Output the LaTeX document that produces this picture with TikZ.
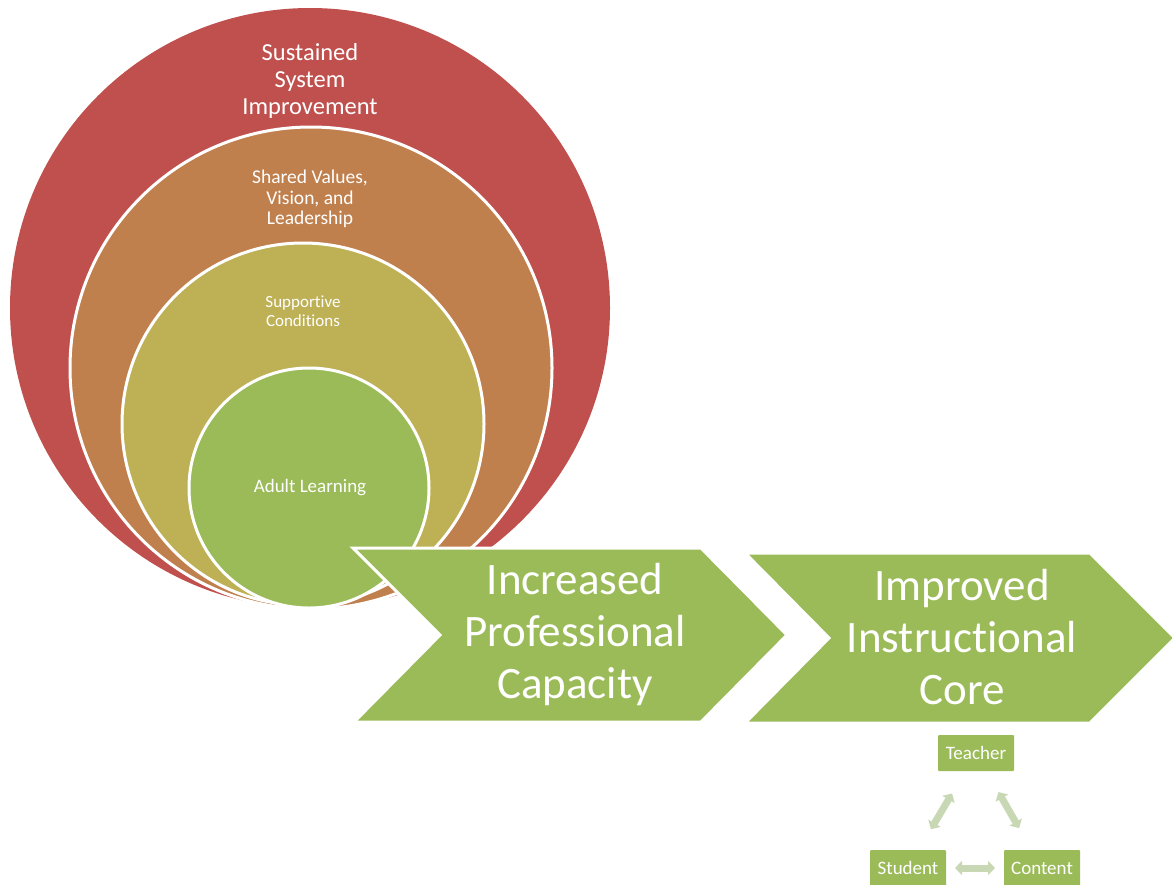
\documentclass[tikz,border=0pt]{standalone}
\usepackage{fontspec}
\setmainfont[Ligatures={NoCommon}]{Carlito}
\usetikzlibrary{arrows.meta}
\definecolor{cred}{HTML}{C0504D}
\definecolor{corange}{HTML}{C0804D}
\definecolor{cyellow}{HTML}{BEB055}
\definecolor{cgreen}{HTML}{9BBB59}
\definecolor{carrow}{HTML}{C9D8B4}
\tikzset{
  ring/.style={circle, inner sep=0pt, outer sep=0pt, draw=white, line width=3pt},
  ringtext/.style={align=center, text=white, inner sep=0pt},
  chev/.style={fill=cgreen, draw=white, line width=3pt, line join=miter},
  chevtext/.style={align=center, text=white, inner sep=0pt, font=\fontsize{45}{52}\selectfont},
  corebox/.style={fill=cgreen, text=white, minimum width=76pt, minimum height=36pt, inner sep=0pt, font=\fontsize{19}{21}\selectfont, rounded corners=1pt},
  twoway/.style={draw=carrow, line width=7pt, {Triangle[width=14pt,length=7pt]}-{Triangle[width=14pt,length=7pt]}}
}
\begin{document}
\begin{tikzpicture}[x=1pt,y=-1pt]
\useasboundingbox (0,0) rectangle (1172,884);
\clip (0,0) rectangle (1172,884);
% nested circles
\node[ring, fill=cred, draw=none, minimum size=600pt] (c1) at (310,308) {};
\node[ring, fill=corange, minimum size=482pt] (c2) at (311,368) {};
\node[ring, fill=cyellow, minimum size=362pt] (c3) at (303,424) {};
\node[ring, fill=cgreen, minimum size=240pt] (c4) at (309,488) {};
\node[ringtext, font=\fontsize{24.5}{27}\selectfont] (t1) at (310,81) {Sustained\\System\\Improvement};
\node[ringtext, font=\fontsize{19.5}{20.5}\selectfont] (t2) at (310,199) {Shared Values,\\Vision, and\\Leadership};
\node[ringtext, font=\fontsize{17}{19}\selectfont] (t3) at (303,311) {Supportive\\Conditions};
\node[ringtext, font=\fontsize{19}{21}\selectfont] (t4) at (310,488) {Adult Learning};
% chevrons
\path[chev] (353,548) -- (701,548) -- (787,635) -- (701,722) -- (354,722) -- (440,635) -- cycle;
\node[chevtext] (p1) at (575,634) {Increased\\Professional\\Capacity};
\path[chev] (745,553) -- (1090,553) -- (1175,638) -- (1090,723) -- (745,723) -- (829,638) -- cycle;
\node[chevtext] (p2) at (962,637) {Improved\\Instructional\\Core};
% instructional core triangle
\node[corebox] (teacher) at (976,753) {Teacher};
\node[corebox] (student) at (908,868) {Student};
\node[corebox] (content) at (1042,868) {Content};
\draw[twoway, shorten <=45pt, shorten >=47pt] (student.center) -- (teacher.center);
\draw[twoway, shorten <=45pt, shorten >=46pt] (teacher.center) -- (content.center);
\draw[twoway, shorten <=47pt, shorten >=47pt] (student.center) -- (content.center);
\end{tikzpicture}
\end{document}
